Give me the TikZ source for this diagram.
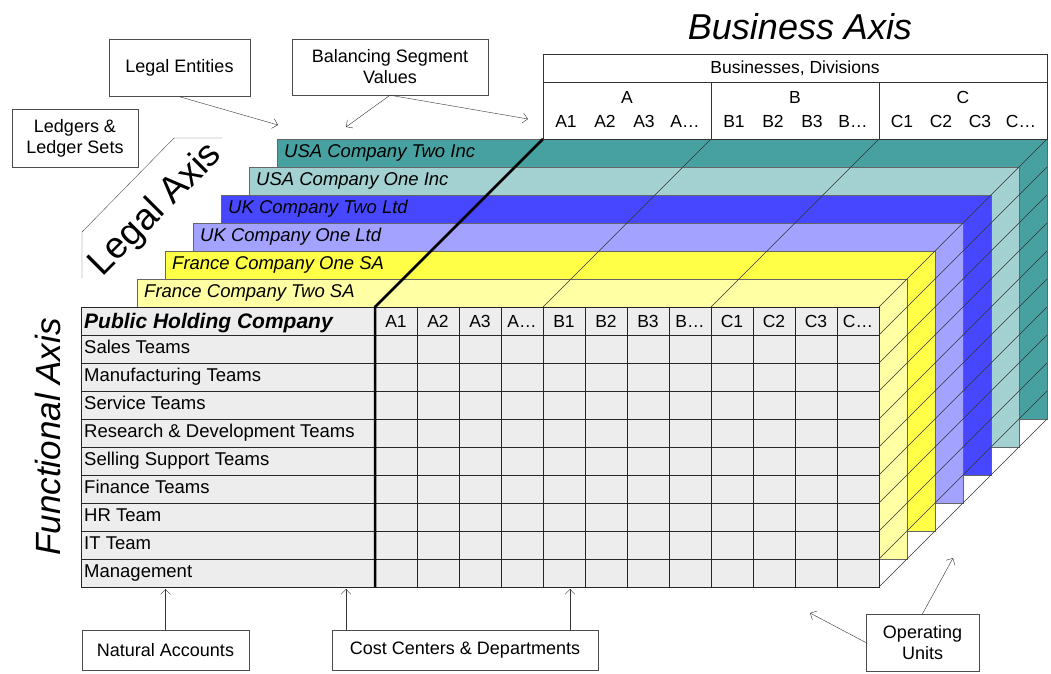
\documentclass[tikz,border=0pt]{standalone}
\usepackage{fontspec}
\setmainfont{Liberation Sans}
\usetikzlibrary{arrows.meta}

\definecolor{usatwo}{RGB}{72,161,161}
\definecolor{usaone}{RGB}{163,209,209}
\definecolor{uktwo}{RGB}{71,71,255}
\definecolor{ukone}{RGB}{163,163,255}
\definecolor{frone}{RGB}{255,255,71}
\definecolor{frtwo}{RGB}{255,255,163}
\definecolor{cellgray}{RGB}{237,237,237}

\tikzset{
  labelbox/.style={draw=black!70, fill=white, align=center, inner sep=0pt, font=\fontsize{18}{21}\selectfont},
  callout/.style={draw=black!80, -{Straight Barb[length=5pt,width=10pt]}},
  gridline/.style={draw=black!85},
  celltext/.style={inner sep=0pt, font=\fontsize{17.5}{20}\selectfont},
  rowtext/.style={anchor=base west, inner sep=0pt, font=\fontsize{18.5}{21}\selectfont},
  axistitle/.style={inner sep=0pt, font=\fontsize{36}{40}\selectfont\itshape},
}

\begin{document}
\begin{tikzpicture}[x=1pt,y=-1pt]
    \useasboundingbox (0,0) rectangle (1051,673);

    % capas de entidades legales (de atras hacia adelante)
    \foreach \i/\col/\name in {6/usatwo/USA Company Two Inc, 5/usaone/USA Company One Inc, 4/uktwo/UK Company Two Ltd, 3/ukone/UK Company One Ltd, 2/frone/France Company One SA, 1/frtwo/France Company Two SA}{
        \draw[fill=\col, draw=black!60] ({109+28*\i},{307-28*\i}) rectangle ({879+28*\i},{587-28*\i});
        \node[rowtext, font=\fontsize{18.5}{21}\selectfont\itshape] (layer\i) at ({116+28*\i},{325-28*\i}) {\name};
    }

    % tabla de la compania
    \draw[fill=cellgray, draw=black!85] (81,307) rectangle (879,587);
    \foreach \y in {335,363,...,559} \draw[gridline] (81,\y) -- (879,\y);
    \foreach \x in {417,459,...,837} \draw[gridline] (\x,307) -- (\x,587);

    \node[rowtext, font=\fontsize{21}{24}\selectfont\bfseries\itshape] (holding) at (84,328) {Public Holding Company};
    \foreach \t [count=\n] in {Sales Teams, Manufacturing Teams, Service Teams, Research \& Development Teams, Selling Support Teams, Finance Teams, HR Team, IT Team, Management}
        \node[rowtext] (row\n) at (84,{325+28*\n}) {\t};
    \foreach \t [count=\k from 0] in {A1,A2,A3,A\ldots,B1,B2,B3,B\ldots,C1,C2,C3,C\ldots}
        \node[celltext] (col\k) at ({396+42*\k},321) {\t};

    % diagonales de profundidad
    \foreach \y in {307,335,...,587} \draw[draw=black!80] (879,\y) -- ++(168,-168);
    \draw[draw=black!80] (543,307) -- ++(168,-168);
    \draw[draw=black!80] (711,307) -- ++(168,-168);
    \draw[line width=2.5pt] (375,587) -- (375,307) -- (543,139);

    % encabezado de negocios
    \draw[fill=white, draw=black!80] (543,54) rectangle (1047,139);
    \draw[draw=black!80] (543,82) -- (1047,82);
    \draw[draw=black!80] (711,82) -- (711,139);
    \draw[draw=black!80] (879,82) -- (879,139);
    \node[celltext] (bizdiv) at (795,68) {Businesses, Divisions};
    \foreach \g [count=\j from 0] in {A,B,C}{
        \node[celltext] (grp\g) at ({627+168*\j},97) {\g};
        \foreach \s/\dx in {1/23,2/62,3/101,\ldots/142}
            \node[celltext] (hd\g\j\dx) at ({543+168*\j+\dx},121) {\g\s};
    }

    % titulos de ejes
    \node[axistitle] (bizaxis) at (800,27) {Business Axis};
    \node[axistitle, font=\fontsize{35}{40}\selectfont\itshape, rotate=90] (funcaxis) at (48,437) {Functional Axis};
    \node[axistitle, font=\fontsize{37}{40}\selectfont, rotate=45] (legalaxis) at (156,210) {Legal Axis};
    \draw[draw=black!70] (82,278) -- (82,232) -- (174,138) -- (222,138);

    % cajas de notas
    \node[labelbox, minimum width=141pt, minimum height=57pt] (legent) at (179.5,68) {Legal Entities};
    \node[labelbox, minimum width=196pt, minimum height=56pt] (balseg) at (390,67) {Balancing Segment\\Values};
    \node[labelbox, minimum width=126pt, minimum height=58pt] (ledgers) at (75,138) {Ledgers \&\\Ledger Sets};
    \node[labelbox, minimum width=167pt, minimum height=40pt] (natacc) at (165.5,650) {Natural Accounts};
    \node[labelbox, minimum width=266pt, minimum height=40pt] (costc) at (465,650) {Cost Centers \& Departments};
    \node[labelbox, minimum width=113pt, minimum height=57pt] (opunits) at (922.5,642.5) {Operating\\Units};

    % flechas
    \coordinate (letip) at (278,125);
    \coordinate (bstip1) at (346,127);
    \coordinate (bstip2) at (528,119);
    \coordinate (natip) at (165.5,589);
    \coordinate (cctip1) at (346,589);
    \coordinate (cctip2) at (570,589);
    \coordinate (outip1) at (810,613);
    \coordinate (outip2) at (953,558);
    \draw[callout] (legent.south) -- (letip);
    \draw[callout] (balseg.south) -- (bstip1);
    \draw[callout] (balseg.south) -- (bstip2);
    \draw[callout] (natacc.north) -- (natip);
    \draw[callout] (costc.north -| cctip1) -- (cctip1);
    \draw[callout] (costc.north -| cctip2) -- (cctip2);
    \draw[callout] (opunits.west) -- (outip1);
    \draw[callout] (opunits.north) -- (outip2);

\end{tikzpicture}
\end{document}
